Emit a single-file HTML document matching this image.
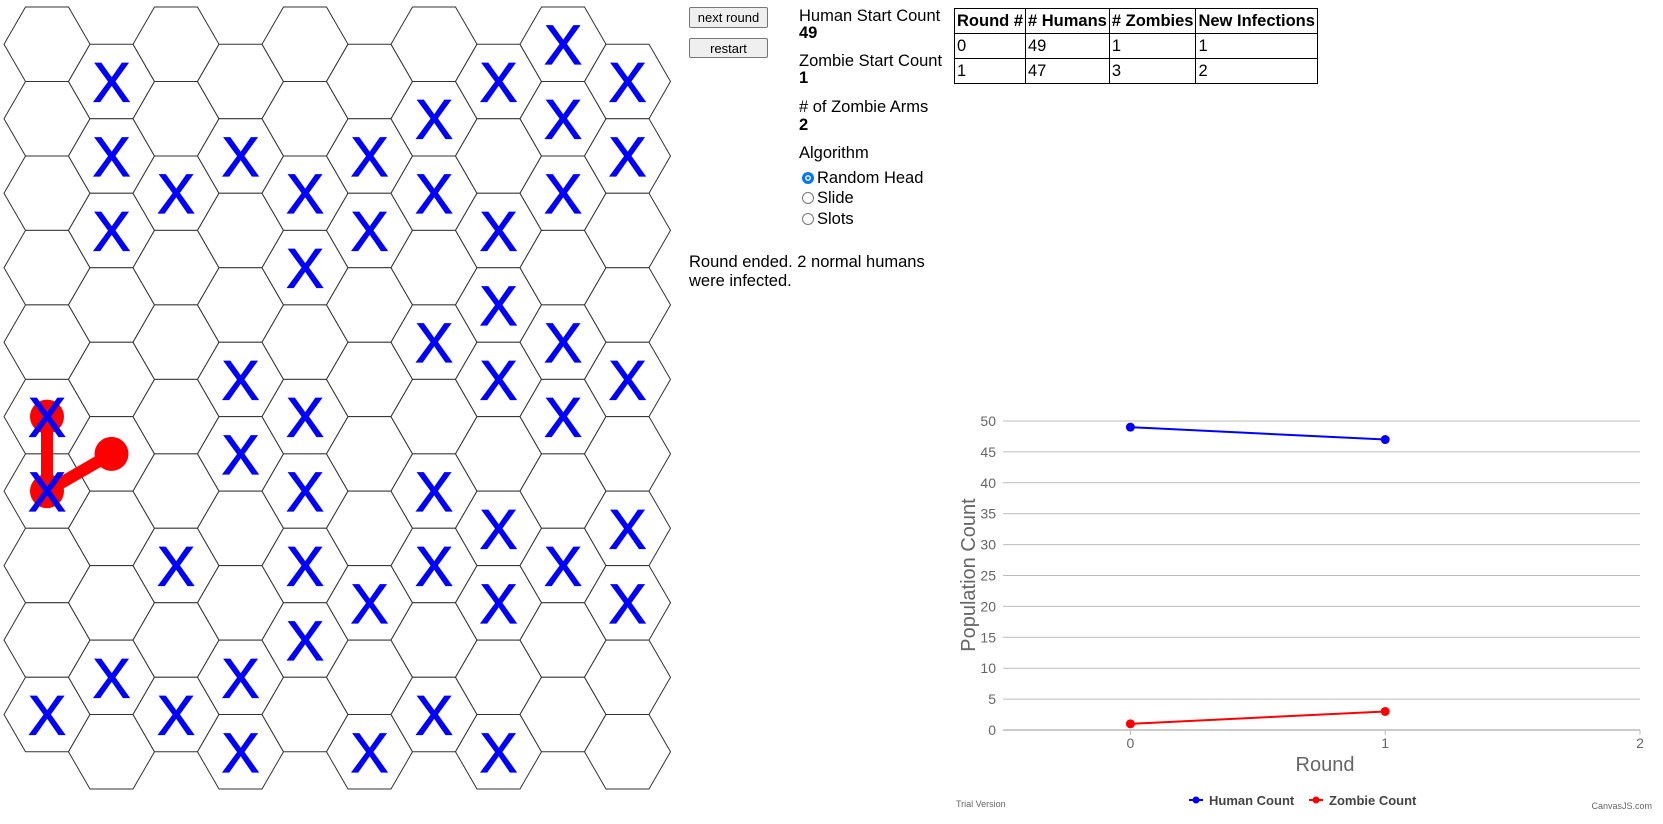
<!DOCTYPE html>
<html><head><meta charset="utf-8">
<style>
body{margin:0;width:1663px;height:824px;overflow:hidden;background:#fff;font-family:"Liberation Sans",Arial,sans-serif;position:relative}
.abs{position:absolute}
button{position:absolute;font-family:"Liberation Sans",sans-serif;font-size:13px;background:#efefef;border:1px solid #767676;border-radius:2px;padding:0;color:#000}
.lbl{position:absolute;left:799px;font-size:16.5px;line-height:20px;color:#000;white-space:nowrap}
.b{font-weight:bold}
table{position:absolute;left:954px;top:8px;border-collapse:collapse;font-size:16.5px}
td,th{border:1.5px solid #000;height:24px;padding:0 2px;text-align:left;vertical-align:middle;white-space:nowrap;line-height:20px}
.rad{position:absolute;left:802px;font-size:16.5px;line-height:20px;display:flex;align-items:center}
.rc{width:12px;height:12px;border:1px solid #767676;border-radius:50%;margin-right:3px;box-sizing:border-box;background:#fff}
.rc.on{border:3.5px solid #0075ff;box-shadow:inset 0 0 0 1.5px #fff;background:#0075ff}
</style></head><body>
<svg id="grid" class="abs" style="left:0;top:0" width="680" height="824"></svg>

<button style="left:689px;top:7px;width:79px;height:21px">next round</button>
<button style="left:689px;top:38px;width:79px;height:20px">restart</button>

<div class="lbl" style="top:6px">Human Start Count</div>
<div class="lbl b" style="top:23px">49</div>
<div class="lbl" style="top:51px">Zombie Start Count</div>
<div class="lbl b" style="top:68px">1</div>
<div class="lbl" style="top:97px">#&nbsp;of Zombie Arms</div>
<div class="lbl b" style="top:115px">2</div>
<div class="lbl" style="top:143px">Algorithm</div>
<div class="rad" style="top:168px"><span class="rc on"></span>Random Head</div>
<div class="rad" style="top:188px"><span class="rc"></span>Slide</div>
<div class="rad" style="top:209px"><span class="rc"></span>Slots</div>
<div class="abs" style="left:689px;top:253px;font-size:16.5px;line-height:19px;width:240px">Round ended. 2 normal humans were infected.</div>

<table>
<tr><th>Round #</th><th># Humans</th><th># Zombies</th><th>New Infections</th></tr>
<tr><td>0</td><td>49</td><td>1</td><td>1</td></tr>
<tr><td>1</td><td>47</td><td>3</td><td>2</td></tr>
</table>

<svg id="chart" class="abs" style="left:0;top:0;pointer-events:none" width="1663" height="824"></svg>

<script>
// hex grid data: X cells per column (row indices)
const xCells = [[5,6,9],[0,1,2,8],[2,7,9],[1,4,5,8,9],[2,3,5,6,7,8],[1,2,7,9],[1,2,4,6,7,9],[0,2,3,4,6,7,9],[0,1,2,4,5,7],[0,1,4,6,7]];
const zombieHead = [0,6];
const zombieArms = [[0,5],[1,5]];
const NS='http://www.w3.org/2000/svg';
const S=43, H=S*Math.sqrt(3);
function cx(c){return 47+64.5*c;}
function cy(c,r){return 7+H/2+(c%2?H/2:0)+r*H;}
const g=document.getElementById('grid');
for(let c=0;c<10;c++)for(let r=0;r<10;r++){
  const x=cx(c),y=cy(c,r);
  const p=document.createElementNS(NS,'polygon');
  
  
  const pts=[];for(let k=0;k<6;k++){const a=Math.PI/3*k;pts.push((x+S*Math.cos(a)).toFixed(1)+','+(y+S*Math.sin(a)).toFixed(1));}
  p.setAttribute('points',pts.join(' '));
  p.setAttribute('fill','#fff');p.setAttribute('stroke','#333');p.setAttribute('stroke-width','1');
  g.appendChild(p);
}
const hx=cx(zombieHead[0]),hy=cy(zombieHead[0],zombieHead[1]);
zombieArms.forEach(a=>{
  const ax=cx(a[0]),ay=cy(a[0],a[1]);
  const l=document.createElementNS(NS,'line');
  
  
  l.setAttribute('x1',hx);l.setAttribute('y1',hy);l.setAttribute('x2',ax);l.setAttribute('y2',ay);
  l.setAttribute('stroke','#f00');l.setAttribute('stroke-width','12');g.appendChild(l);
});
[zombieHead].concat(zombieArms).forEach(a=>{
  const ci=document.createElementNS(NS,'circle');
  
  
  ci.setAttribute('cx',cx(a[0]));ci.setAttribute('cy',cy(a[0],a[1]));ci.setAttribute('r','17');ci.setAttribute('fill','#f00');g.appendChild(ci);
});
xCells.forEach((rows,c)=>rows.forEach(r=>{
  const t=document.createElementNS(NS,'text');
  
  
  t.setAttribute('x',cx(c));t.setAttribute('y',cy(c,r)+20);
  t.setAttribute('text-anchor','middle');t.setAttribute('font-size','56');
  t.setAttribute('font-family','Liberation Sans, sans-serif');t.setAttribute('fill','#00f');
  t.setAttribute('stroke','#00f');t.setAttribute('stroke-width','1.2');
  t.textContent='X';g.appendChild(t);
}));

// chart data
const rounds=[0,1];
const humanCounts=[49,47];
const zombieCounts=[1,3];
const yTicks=[0,5,10,15,20,25,30,35,40,45,50];
const xTicks=[0,1,2];
const ch=document.getElementById('chart');
const X0=1003,X1=1640,XMIN=-0.5,XMAX=2,Y0=730,Y1=421,YMAX=50;
function xs(v){return X0+(v-XMIN)/(XMAX-XMIN)*(X1-X0);}
function ys(v){return Y0-(v/YMAX)*(Y0-Y1);}
function el(tag,attrs,name,txt){const e=document.createElementNS(NS,tag);for(const k in attrs)e.setAttribute(k,attrs[k]);
  
  
  if(txt!==undefined)e.textContent=txt;ch.appendChild(e);return e;}
const F='Liberation Sans, sans-serif';
yTicks.forEach(v=>{
  el('line',{x1:X0,x2:X1,y1:ys(v),y2:ys(v),stroke:'#bbb','stroke-width':1},'y-gridline');
  el('text',{x:X0-7,y:ys(v)+5,'text-anchor':'end','font-size':14,fill:'#666','font-family':F},'y-tick-label',String(v));
});
el('line',{x1:X0,x2:X1,y1:Y0,y2:Y0,stroke:'#bbb','stroke-width':1.5},'x-axis-line');
xTicks.forEach(v=>{
  el('line',{x1:xs(v),x2:xs(v),y1:Y0,y2:Y0+5,stroke:'#bbb','stroke-width':1},'x-tick');
  el('text',{x:xs(v),y:Y0+18,'text-anchor':'middle','font-size':14,fill:'#666','font-family':F},'x-tick-label',String(v));
});
el('text',{x:0,y:0,transform:'translate(975,575) rotate(-90)','text-anchor':'middle','font-size':20,fill:'#666','font-family':F},'y-axis-title','Population Count');
el('text',{x:1325,y:771,'text-anchor':'middle','font-size':20,fill:'#666','font-family':F},'x-axis-title','Round');
function series(vals,color,name){
  el('polyline',{points:rounds.map((r,i)=>xs(r)+','+ys(vals[i])).join(' '),fill:'none',stroke:color,'stroke-width':2},name+'-line');
  rounds.forEach((r,i)=>el('circle',{cx:xs(r),cy:ys(vals[i]),r:4.5,fill:color},name+'-point'));
}
series(humanCounts,'#00f','human');
series(zombieCounts,'#f00','zombie');
el('line',{x1:1189,x2:1203,y1:800,y2:800,stroke:'#00f','stroke-width':2},'legend-human-line');
el('circle',{cx:1196,cy:800,r:3.5,fill:'#00f'},'legend-human-marker');
el('text',{x:1209,y:805,'font-size':13,'font-weight':'bold',fill:'#444','font-family':F},'legend-human-label','Human Count');
el('line',{x1:1309,x2:1323,y1:800,y2:800,stroke:'#f00','stroke-width':2},'legend-zombie-line');
el('circle',{cx:1316,cy:800,r:3.5,fill:'#f00'},'legend-zombie-marker');
el('text',{x:1329,y:805,'font-size':13,'font-weight':'bold',fill:'#444','font-family':F},'legend-zombie-label','Zombie Count');
el('text',{x:956,y:807,'font-size':9,fill:'#666','font-family':F},'trial-version-text','Trial Version');
el('text',{x:1652,y:809,'font-size':9,fill:'#666','text-anchor':'end','font-family':F},'canvasjs-credit','CanvasJS.com');
</script>
</body></html>
